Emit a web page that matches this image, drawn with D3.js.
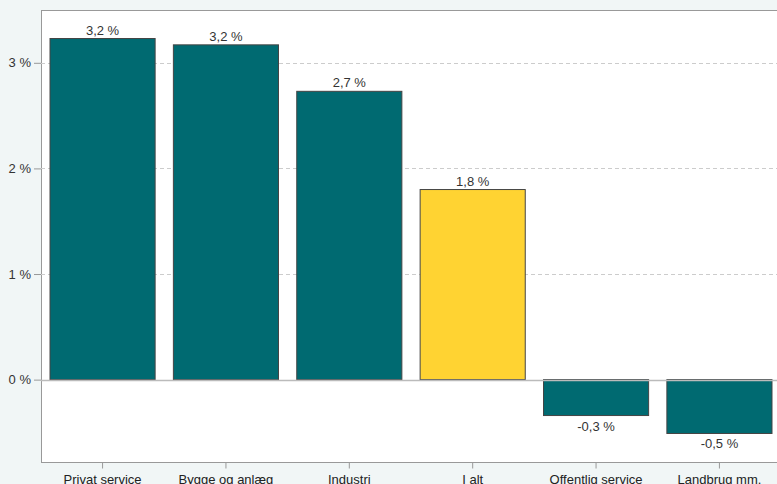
<!DOCTYPE html>
<html><head><meta charset="utf-8">
<script src="https://cdn.jsdelivr.net/npm/d3@7"></script>
<style>
html,body{margin:0;padding:0;background:#f1f6f6;overflow:hidden}
svg{display:block;font-family:"Liberation Sans",Arial,sans-serif}
</style></head>
<body>
<svg id="c" width="777" height="484"></svg>
<script>
const categories = ["Privat service","Bygge og anlæg","Industri","I alt","Offentlig service","Landbrug mm."];
const values = [3.23, 3.17, 2.73, 1.80, -0.34, -0.51];
const valueLabels = ["3,2 %","3,2 %","2,7 %","1,8 %","-0,3 %","-0,5 %"];
const highlight = ["I alt"];
const yTicks = [0,1,2,3];
const yTickLabels = ["0 %","1 %","2 %","3 %"];

const svg = d3.select("#c");
const L = 41, T = 10, R = 781, B = 462;
const x = d3.scaleBand().domain(categories).range([L, R]).paddingInner(0.148).paddingOuter(0.073);
const y = d3.scaleLinear().domain([-0.78, 3.5]).range([B, T]);

svg.append("rect").attr("x", L + 0.5).attr("y", T + 0.5).attr("width", R - L).attr("height", B - T)
  .attr("fill", "#fff").attr("stroke", "#999").attr("stroke-width", 1);

// grid
svg.append("g").selectAll("line").data(yTicks.filter(d => d !== 0)).join("line")
  .attr("x1", L).attr("x2", R).attr("y1", d => Math.round(y(d)) + 0.5).attr("y2", d => Math.round(y(d)) + 0.5)
  .attr("stroke", "#ccc").attr("stroke-dasharray", "4,3");

// y axis
const yAxis = d3.axisLeft(y).tickValues(yTicks).tickFormat((d, i) => yTickLabels[i]).tickSize(7).tickPadding(3);
const ga = svg.append("g").attr("transform", `translate(${L},0)`).call(yAxis);
ga.select(".domain").remove();
ga.selectAll(".tick line").attr("stroke", "#999");
ga.selectAll(".tick text").attr("fill", "#333").style("font-size", "13px").style("font-family", "Liberation Sans, Arial, sans-serif");

// x axis
const xAxis = d3.axisBottom(x).tickSize(6).tickPadding(6);
const gx = svg.append("g").attr("transform", `translate(0,${B + 0.5})`).call(xAxis);
gx.select(".domain").remove();
gx.selectAll(".tick line").attr("stroke", "#999");
gx.selectAll(".tick text").attr("fill", "#222").style("font-size", "13px").style("font-family", "Liberation Sans, Arial, sans-serif");

// bars
svg.append("g").selectAll("rect").data(categories).join("rect")
  .attr("x", d => x(d)).attr("width", x.bandwidth())
  .attr("y", (d, i) => y(Math.max(0, values[i])))
  .attr("height", (d, i) => Math.abs(y(values[i]) - y(0)))
  .attr("fill", d => highlight.includes(d) ? "#ffd332" : "#006a71")
  .attr("stroke", "#444").attr("stroke-width", 1);

// zero line
svg.append("line").attr("x1", L).attr("x2", R).attr("y1", Math.round(y(0)) + 0.5).attr("y2", Math.round(y(0)) + 0.5)
  .attr("stroke", "#bbb").attr("stroke-width", 1.5);

// labels
svg.append("g").selectAll("text").data(categories).join("text")
  .attr("x", d => x(d) + x.bandwidth() / 2)
  .attr("y", (d, i) => values[i] >= 0 ? y(values[i]) - 4 : y(values[i]) + 15)
  .attr("text-anchor", "middle").attr("fill", "#333").style("font-size", "13px")
  .text((d, i) => valueLabels[i]);
</script>
</body></html>
